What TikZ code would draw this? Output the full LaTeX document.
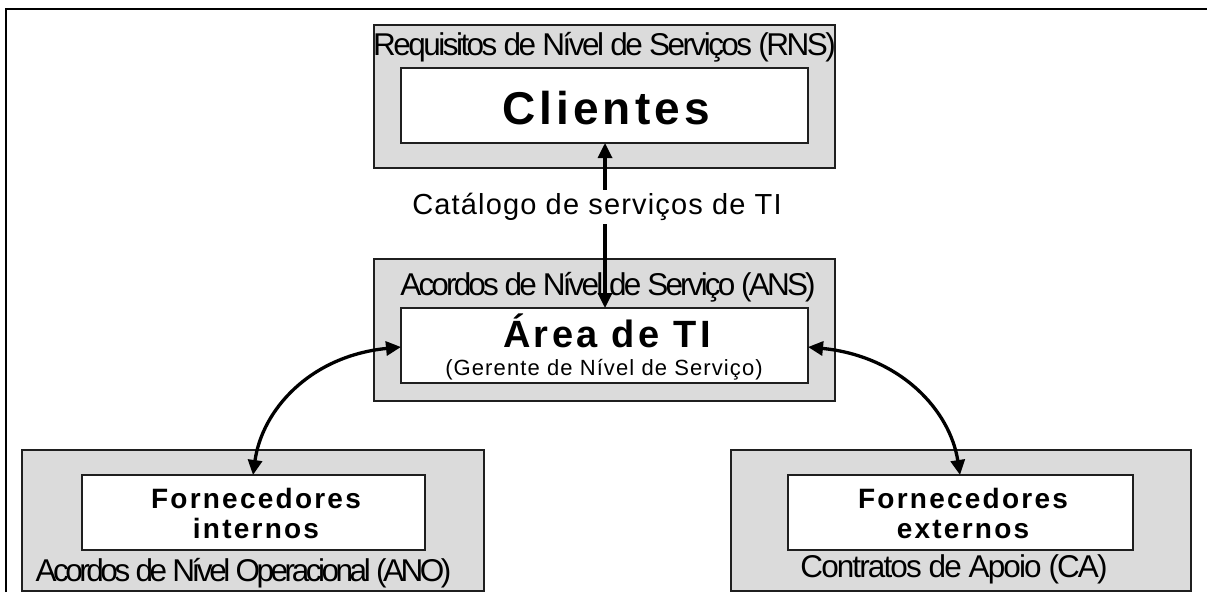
\documentclass[tikz,border=0pt]{standalone}
\usepackage{fontspec}
\setmainfont{Liberation Sans}
\usetikzlibrary{arrows.meta}
\definecolor{panelgray}{gray}{0.86}
\definecolor{edgegray}{gray}{0.12}
\newcommand{\fsz}[1]{\fontsize{#1}{#1}\selectfont}
\newcommand{\track}[1]{\addfontfeature{LetterSpace=#1}}
\tikzset{
  panel/.style={draw=edgegray, line width=1.7pt, fill=panelgray, minimum width=#1, inner sep=0pt, outer sep=0pt},
  whitebox/.style={draw=edgegray, line width=1.6pt, fill=white, inner sep=0pt, outer sep=0pt},
  txt/.style={inner sep=0pt, anchor=base},
  link/.style={line width=3.3pt, {Triangle[length=15pt,width=14pt]}-{Triangle[length=15pt,width=14pt]}},
  frameline/.style={line width=2.6pt, black}
}
\begin{document}
\begin{tikzpicture}[x=1pt,y=-1pt]
\useasboundingbox (0,0) rectangle (1207,592);
% outer frame (left and top edges)
\draw[frameline] (6,592) -- (6,9) -- (1207,9);

% top panel: clients
\node[panel=461pt, minimum height=143pt] (rnsp) at (604.5,96.5) {};
\node[whitebox, minimum width=407pt, minimum height=75pt] (cli) at (604.5,105.5) {};
\node[txt, font=\bfseries\fsz{46}\track{9}] (clit) at (606,124) {Clientes};
\node[txt, font=\fsz{31.5}\track{-8}] (rns) at (604.5,55) {Requisitos de Nível de Serviços (RNS)};

% middle panel: IT area
\node[panel=461pt, minimum height=142pt] (ansp) at (604.5,330) {};
\node[whitebox, minimum width=407pt, minimum height=75pt] (ti) at (604.5,345.5) {};
\node[txt, font=\bfseries\fsz{38}\track{9}] (tit) at (607,347) {Área de TI};
\node[txt, font=\fsz{22}\track{5}] (tis) at (604,375) {(Gerente de Nível de Serviço)};
\node[txt, font=\fsz{31.5}\track{-9}] (ans) at (608,295) {Acordos de Nível de Serviço (ANS)};

% bottom left panel: internal suppliers
\node[panel=462pt, minimum height=141pt] (anop) at (253,520.5) {};
\node[whitebox, minimum width=343pt, minimum height=75pt] (fi) at (253.5,512.5) {};
\node[txt, font=\bfseries\fsz{28}\track{8}] (fi1) at (256,508) {Fornecedores};
\node[txt, font=\bfseries\fsz{28}\track{8}] (fi2) at (256,538) {internos};
\node[txt, font=\fsz{31.5}\track{-11}] (ano) at (243.5,581) {Acordos de Nível Operacional (ANO)};

% bottom right panel: external suppliers
\node[panel=460pt, minimum height=141pt] (cap) at (961,520.5) {};
\node[whitebox, minimum width=345pt, minimum height=75pt] (fe) at (960.5,512.5) {};
\node[txt, font=\bfseries\fsz{28}\track{8}] (fe1) at (963,508) {Fornecedores};
\node[txt, font=\bfseries\fsz{28}\track{8}] (fe2) at (963,538) {externos};
\node[txt, font=\fsz{31.5}\track{-6}] (ca) at (954,577) {Contratos de Apoio (CA)};

% connectors
\coordinate (lstart) at (ti.west |- 0,347);
\coordinate (rstart) at (ti.east |- 0,347);
\coordinate (lend) at (253,475);
\coordinate (rend) at (960,475);
\draw[link] (cli.south -| 605,0) -- (ti.north -| 605,0);
\node[fill=white, inner sep=3pt, font=\fsz{29}\track{4}] (cat) at (597,207) {Catálogo de serviços de TI};
\draw[link] (lstart) .. controls (310,356) and (262,410) .. (lend);
\draw[link] (rstart) .. controls (900,356) and (950,410) .. (rend);
\end{tikzpicture}
\end{document}
